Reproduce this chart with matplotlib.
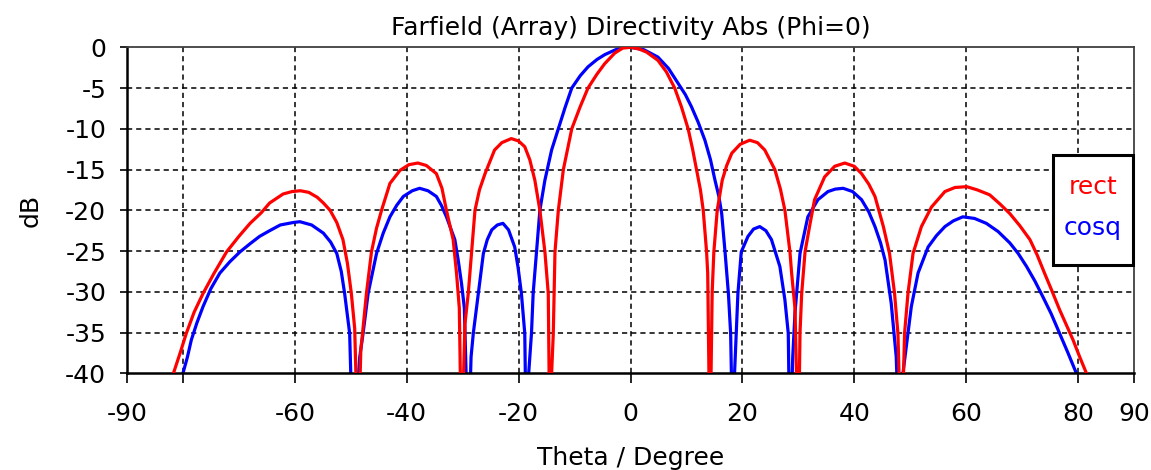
import matplotlib
matplotlib.use("Agg")
import matplotlib.pyplot as plt
from matplotlib.patches import Rectangle
from matplotlib.ticker import FixedLocator, FixedFormatter

# Farfield array directivity cut at Phi=0, two aperture tapers (dB vs theta)
rect_theta = [-81.7, -80.5, -79.4, -78.0, -76.4, -74.5, -72.2, -70.0, -68.0, -66.0,
              -64.5, -62.1, -60.5, -59.0, -57.5, -56.0, -54.9, -53.7, -52.5, -51.4,
              -50.6, -49.9, -49.3, -48.7,
              -48.2, -47.9, -47.2, -46.3, -45.4, -44.5, -43.0, -41.2, -39.6, -38.0,
              -36.5, -34.7, -33.7, -32.9, -31.7, -31.1, -30.6, -30.2,
              -29.6, -29.0, -28.4, -27.8, -27.0, -26.0, -24.3, -23.0, -21.3, -20.0,
              -18.9, -18.0, -17.1, -16.2, -15.3, -14.7, -14.4,
              -14.1, -13.8, -13.5, -12.9, -12.0, -10.5, -9.0, -7.6, -6.0, -4.6,
              -2.8, -1.4, 0.0, 1.5, 2.9, 4.9, 6.4, 7.9, 9.1, 10.3,
              11.1, 11.8, 12.5, 13.0, 13.6, 13.8, 14.2,
              14.6, 14.9, 15.5, 16.4, 17.2, 18.1, 19.6, 21.3, 22.7, 24.0,
              25.8, 26.8, 27.6, 28.5, 28.8, 29.4, 30.0,
              30.3, 30.6, 31.2, 32.0, 32.9, 34.7, 36.5, 38.3, 40.0, 41.3,
              42.6, 43.7, 45.2, 46.3, 47.2, 47.8, 48.4,
              49.0, 49.6, 50.5, 52.0, 53.8, 56.2, 58.0, 60.1, 62.0, 64.2,
              66.0, 67.8, 69.6, 71.4, 72.7, 74.0, 75.4, 76.7, 78.0, 79.1,
              80.3, 81.5]
rect_db = [-40.0, -37.5, -35.1, -32.5, -30.2, -27.8, -25.1, -23.2, -21.6, -20.3,
           -19.1, -18.0, -17.7, -17.6, -17.8, -18.4, -19.1, -20.0, -21.5, -23.6,
           -26.5, -30.2, -34.5, -50.0,
           -37.0, -35.1, -30.2, -25.1, -22.2, -20.0, -16.7, -15.1, -14.4, -14.2,
           -14.5, -15.5, -17.3, -20.0, -23.6, -27.7, -32.0, -50.0,
           -34.0, -30.2, -25.1, -20.0, -17.5, -15.5, -12.6, -11.7, -11.2, -11.5,
           -12.2, -13.8, -16.3, -20.0, -25.1, -30.2, -50.0,
           -40.0, -35.1, -25.1, -20.0, -15.0, -10.0, -7.3, -5.0, -3.3, -2.0,
           -0.7, -0.1, 0.0, -0.2, -0.6, -1.6, -3.0, -5.0, -7.3, -10.0,
           -12.5, -15.0, -17.5, -20.0, -25.1, -27.7, -50.0,
           -30.0, -25.1, -20.0, -16.3, -14.5, -13.0, -11.9, -11.4, -11.7, -12.6,
           -15.0, -17.4, -20.0, -25.1, -27.7, -32.0, -50.0,
           -35.0, -30.2, -25.1, -22.0, -18.7, -15.9, -14.6, -14.2, -14.6, -15.5,
           -16.8, -18.3, -22.0, -25.3, -30.2, -35.1, -50.0,
           -35.0, -30.2, -25.3, -22.0, -19.6, -17.7, -17.2, -17.1, -17.5, -18.1,
           -19.2, -20.4, -21.9, -23.6, -25.5, -27.7, -30.0, -32.2, -34.2, -35.9,
           -38.0, -40.0]

cosq_theta = [-80.0, -79.2, -78.5, -77.5, -76.4, -75.0, -73.4, -71.6, -69.8, -68.0,
              -66.3, -64.5, -62.6, -60.3, -59.1, -57.0, -54.9, -53.6, -52.5, -51.7,
              -51.1, -50.2, -49.6,
              -48.4, -47.8, -46.9, -45.4, -44.2, -43.0, -41.8, -40.6, -39.0, -37.7,
              -36.2, -34.7, -33.8, -32.9, -31.4, -30.8, -30.2, -29.7, -29.0,
              -28.5, -28.1, -27.2, -26.3, -25.6, -24.8, -23.8, -22.8, -21.8, -20.7,
              -20.1, -19.5, -18.9, -18.6,
              -18.2, -17.7, -17.4, -16.8, -16.2, -15.3, -14.1, -12.9, -11.7, -10.5,
              -9.0, -7.6, -6.0, -4.6, -3.0, -1.6, 0.0, 2.4, 4.9, 6.8,
              8.5, 9.8, 10.9, 12.1, 13.3, 14.3, 15.1, 15.8, 16.3, 16.9,
              17.5, 17.9, 18.3,
              18.6, 18.9, 19.2, 19.8, 21.0, 22.0, 23.1, 24.2, 25.2, 26.7,
              27.6, 28.2, 28.5,
              29.0, 29.4, 30.3, 31.7, 33.5, 35.3, 36.6, 38.0, 39.7, 41.3,
              42.6, 43.7, 44.7, 45.5, 46.6, 47.5, 48.1,
              48.7, 49.3, 50.2, 51.4, 53.2, 54.7, 56.2, 57.7, 59.4, 61.5,
              63.6, 65.7, 67.8, 69.3, 70.8, 72.3, 73.7, 75.2, 76.7, 78.2,
              79.7]
cosq_db = [-40.0, -38.0, -35.9, -33.8, -31.8, -29.6, -27.7, -26.3, -25.1, -24.1,
           -23.2, -22.5, -21.8, -21.5, -21.4, -21.8, -22.8, -23.9, -25.3, -27.5,
           -30.2, -35.1, -50.0,
           -38.0, -35.1, -30.2, -25.3, -22.8, -20.8, -19.4, -18.3, -17.6, -17.3,
           -17.6, -18.3, -19.4, -20.8, -23.6, -26.1, -29.0, -32.0, -50.0,
           -38.0, -35.1, -30.2, -25.3, -23.6, -22.4, -21.8, -21.6, -22.4, -24.5,
           -27.0, -30.2, -35.1, -50.0,
           -40.0, -35.1, -30.2, -25.1, -20.0, -16.3, -12.6, -10.0, -7.4, -5.0,
           -3.5, -2.4, -1.5, -0.9, -0.4, 0.0, 0.0, -0.3, -1.2, -2.6,
           -4.4, -5.8, -7.3, -9.2, -11.4, -13.8, -16.3, -18.3, -20.4, -25.1,
           -30.2, -35.1, -50.0,
           -40.0, -35.1, -30.2, -25.1, -23.2, -22.3, -22.0, -22.5, -23.6, -26.9,
           -31.0, -35.1, -50.0,
           -38.0, -32.6, -25.3, -20.8, -18.7, -17.7, -17.4, -17.3, -17.7, -18.7,
           -20.2, -22.0, -24.0, -26.1, -31.4, -38.0, -50.0,
           -40.0, -36.7, -31.8, -27.7, -24.5, -23.1, -22.0, -21.3, -20.8, -21.0,
           -21.6, -22.6, -24.0, -25.3, -26.9, -28.7, -30.6, -32.7, -35.1, -37.5,
           -40.0]

series_names = ["rect", "cosq"]
series_colors = ["#ff0000", "#0000ff"]

x_ticks = [-90, -80, -60, -40, -20, 0, 20, 40, 60, 80, 90]
x_tick_labels = ["-90", "", "-60", "-40", "-20", "0", "20", "40", "60", "80", "90"]
x_grid = [-80, -60, -40, -20, 0, 20, 40, 60, 80]
y_ticks = [0, -5, -10, -15, -20, -25, -30, -35, -40]
y_grid = [-5, -10, -15, -20, -25, -30, -35]

plt.rcParams["font.family"] = ["DejaVu Sans"]
FS = 18

fig = plt.figure(figsize=(11.51, 4.70), dpi=100)
ax = fig.add_axes([127 / 1151, 1 - 373.3 / 470, (1134 - 127) / 1151, (373.3 - 47.3) / 470])

grid_style = dict(color="black", lw=1.1, linestyle=(0, (3.4, 2.6)), zorder=1)
for gx in x_grid:
    ax.axvline(gx, **grid_style)
for gy in y_grid:
    ax.axhline(gy, **grid_style)

ax.plot(rect_theta, rect_db, color=series_colors[0], lw=2.3, zorder=3,
        solid_joinstyle="round")
ax.plot(cosq_theta, cosq_db, color=series_colors[1], lw=2.3, zorder=2,
        solid_joinstyle="round")

ax.set_xlim(-90, 90)
ax.set_ylim(-40, 0)
ax.xaxis.set_major_locator(FixedLocator(x_ticks))
ax.xaxis.set_major_formatter(FixedFormatter(x_tick_labels))
ax.set_yticks(y_ticks)
ax.set_yticklabels([str(v) for v in y_ticks])
ax.tick_params(axis="x", direction="out", length=7, width=1.2, pad=14, labelsize=FS)
ax.tick_params(axis="y", direction="out", length=5, width=1.2, pad=10, labelsize=FS)

for side in ("left", "bottom"):
    ax.spines[side].set_linewidth(1.8)
    ax.spines[side].set_color("black")
for side in ("top", "right"):
    ax.spines[side].set_linewidth(1.3)
    ax.spines[side].set_color("#404040")

ax.set_title("Farfield (Array) Directivity Abs (Phi=0)", fontsize=FS, pad=9)
ax.set_xlabel("Theta / Degree", fontsize=FS, labelpad=14)
ax.set_ylabel("dB", fontsize=FS, labelpad=16)

# boxed legend with coloured labels at the right edge of the plot
box = Rectangle((0.9196, 0.332), 0.0794, 0.338, transform=ax.transAxes,
                facecolor="white", edgecolor="black", lw=2.2, zorder=5, clip_on=False)
ax.add_patch(box)
for name, color, yy in zip(series_names, series_colors, [0.572, 0.446]):
    ax.text(0.959, yy, name, color=color, fontsize=FS, ha="center", va="center",
            transform=ax.transAxes, zorder=6)

fig.savefig("out.png", dpi=100)
